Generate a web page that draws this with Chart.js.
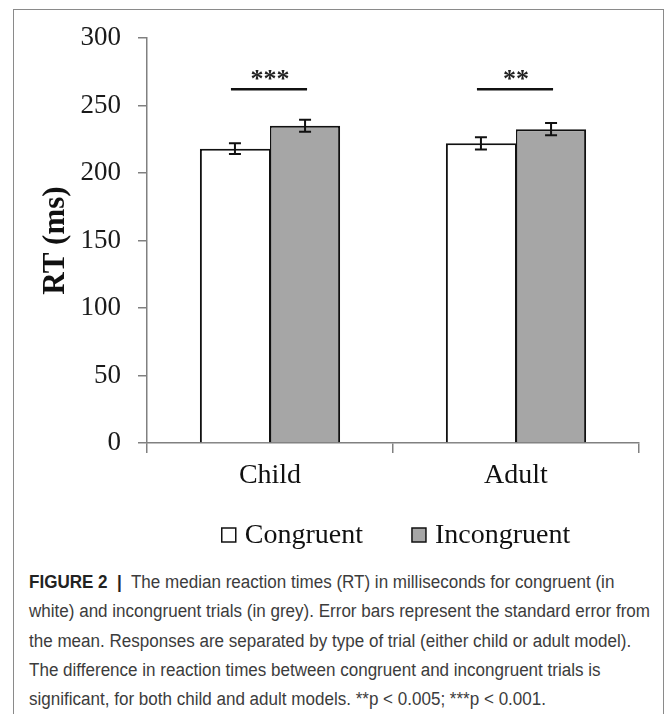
<!DOCTYPE html>
<html>
<head>
<meta charset="utf-8">
<script src="https://cdn.jsdelivr.net/npm/chart.js@4"></script>
<style>
  body { margin: 0; background: #fff; width: 668px; height: 714px; overflow: hidden; position: relative; }
  #frame { position: absolute; left: 13px; top: 9px; width: 649px; height: 730px; border: 1.5px solid #8a8a8a; }
  #wrap { position: absolute; left: 0; top: 0; width: 668px; height: 560px; }
  #caption { position: absolute; left: 29px; top: 568px; font-family: 'Liberation Sans', Arial, sans-serif;
    font-size: 18px; line-height: 29.3px; color: #3c3c3c; white-space: nowrap; transform-origin: 0 0; }
  #caption b { color: #222; }
</style>
</head>
<body>
<div id="frame"></div>
<div id="wrap"><canvas id="myChart"></canvas></div>
<div id="caption">
  <div id="cap1"><b>FIGURE 2</b>&nbsp; <b>|</b>&nbsp; The median reaction times (RT) in milliseconds for congruent (in</div>
  <div id="cap2">white) and incongruent trials (in grey). Error bars represent the standard error from</div>
  <div>the mean. Responses are separated by type of trial (either child or adult model).</div>
  <div>The difference in reaction times between congruent and incongruent trials is</div>
  <div>significant, for both child and adult models. **p &lt; 0.005; ***p &lt; 0.001.</div>
</div>
<script>
var labels = ['Child', 'Adult'];
var congruent = [218, 222];
var incongruent = [235, 232.5];
var congruentSE = [4, 4.5];
var incongruentSE = [4.5, 4.5];
var significance = ['***', '**'];
var sigLineValue = 262;
var sigStarValue = 273;

// stretch the caption so line 2 fills the same width as in the figure
var cap2 = document.getElementById('cap2');
var scaleX = 621 / cap2.getBoundingClientRect().width;
document.getElementById('caption').style.transform = 'scaleX(' + scaleX + ')';

var errorBars = {
  id: 'errorBars',
  afterDatasetsDraw: function(chart) {
    var ctx = chart.ctx;
    var y = chart.scales.y;
    ctx.save();
    ctx.strokeStyle = '#111';
    ctx.lineWidth = 2;
    chart.data.datasets.forEach(function(ds, i) {
      chart.getDatasetMeta(i).data.forEach(function(bar, j) {
        var top = y.getPixelForValue(ds.data[j] + ds.err[j]);
        var bot = y.getPixelForValue(ds.data[j] - ds.err[j]);
        ctx.beginPath();
        ctx.moveTo(bar.x, top); ctx.lineTo(bar.x, bot);
        ctx.moveTo(bar.x - 6, top); ctx.lineTo(bar.x + 6, top);
        ctx.moveTo(bar.x - 6, bot); ctx.lineTo(bar.x + 6, bot);
        ctx.stroke();
      });
    });

    // significance lines with stars
    ctx.lineWidth = 2.5;
    ctx.fillStyle = '#222';
    ctx.font = 'bold 26px "Liberation Serif"';
    ctx.textAlign = 'center';
    ctx.textBaseline = 'alphabetic';
    significance.forEach(function(stars, j) {
      var a = chart.getDatasetMeta(0).data[j].x;
      var b = chart.getDatasetMeta(1).data[j].x;
      var ly = y.getPixelForValue(sigLineValue);
      ctx.beginPath();
      ctx.moveTo(a - 4, ly); ctx.lineTo(b + 2, ly);
      ctx.stroke();
      ctx.fillText(stars, (a + b) / 2, y.getPixelForValue(sigStarValue) + 13);
    });
    ctx.restore();
  }
};

var customLegend = {
  id: 'customLegend',
  afterDraw: function(chart) {
    var ctx = chart.ctx;
    var area = chart.chartArea;
    var box = 14, gap = 9, itemGap = 49;
    ctx.save();
    ctx.font = '28px "Liberation Serif"';
    var items = chart.data.datasets.map(function(ds) {
      return { text: ds.label, fill: ds.backgroundColor, w: box + gap + ctx.measureText(ds.label).width };
    });
    var total = items.reduce(function(s, it) { return s + it.w; }, 0) + itemGap * (items.length - 1);
    var x = (area.left + area.right) / 2 + 3 - total / 2;
    var baseY = 543;
    items.forEach(function(it) {
      ctx.fillStyle = it.fill;
      ctx.fillRect(x, baseY - 15, box, box);
      ctx.strokeStyle = '#111';
      ctx.lineWidth = 1.5;
      ctx.strokeRect(x, baseY - 15, box, box);
      ctx.fillStyle = '#111';
      ctx.textBaseline = 'alphabetic';
      ctx.textAlign = 'left';
      ctx.fillText(it.text, x + box + gap, baseY);
      x += it.w + itemGap;
    });
    ctx.restore();
  }
};

var ctx = document.getElementById('myChart').getContext('2d');
var myChart = new Chart(ctx, {
  type: 'bar',
  data: {
    labels: labels,
    datasets: [
      {
        label: 'Congruent',
        data: congruent,
        err: congruentSE,
        backgroundColor: '#ffffff',
        borderColor: '#111',
        borderWidth: { top: 2, left: 2, right: 1, bottom: 0 },
      },
      {
        label: 'Incongruent',
        data: incongruent,
        err: incongruentSE,
        backgroundColor: '#a6a6a6',
        borderColor: '#111',
        borderWidth: { top: 2, left: 1.5, right: 2, bottom: 0 },
      },
    ],
  },
  options: {
    responsive: true,
    maintainAspectRatio: false,
    animation: false,
    categoryPercentage: 0.57,
    barPercentage: 1.0,
    layout: { padding: { left: 0, right: 29, top: 38, bottom: 67 } },
    plugins: {
      legend: { display: false },
      tooltip: { enabled: false },
    },
    scales: {
      x: {
        afterFit: function(scale) { scale.height = 50; },
        grid: { drawOnChartArea: false, offset: true, tickLength: 10, color: '#808080', lineWidth: 1.5 },
        border: { color: '#808080', width: 1.5 },
        ticks: { color: '#111', padding: 6, font: { family: 'Liberation Serif', size: 28 } },
      },
      y: {
        min: 0,
        max: 300,
        afterFit: function(scale) { scale.width = 147; },
        ticks: { stepSize: 50, color: '#1a1a1a', padding: 17, font: { family: 'Liberation Serif', size: 27 } },
        grid: { drawOnChartArea: false, tickLength: 9, color: '#808080', lineWidth: 1.5 },
        border: { color: '#808080', width: 1.5 },
        title: {
          display: true,
          text: 'RT (ms)',
          color: '#111',
          padding: { top: 37, bottom: 0 },
          font: { family: 'Liberation Serif', size: 31, weight: 'bold' },
        },
      },
    },
  },
  plugins: [errorBars, customLegend],
});
</script>
</body>
</html>
